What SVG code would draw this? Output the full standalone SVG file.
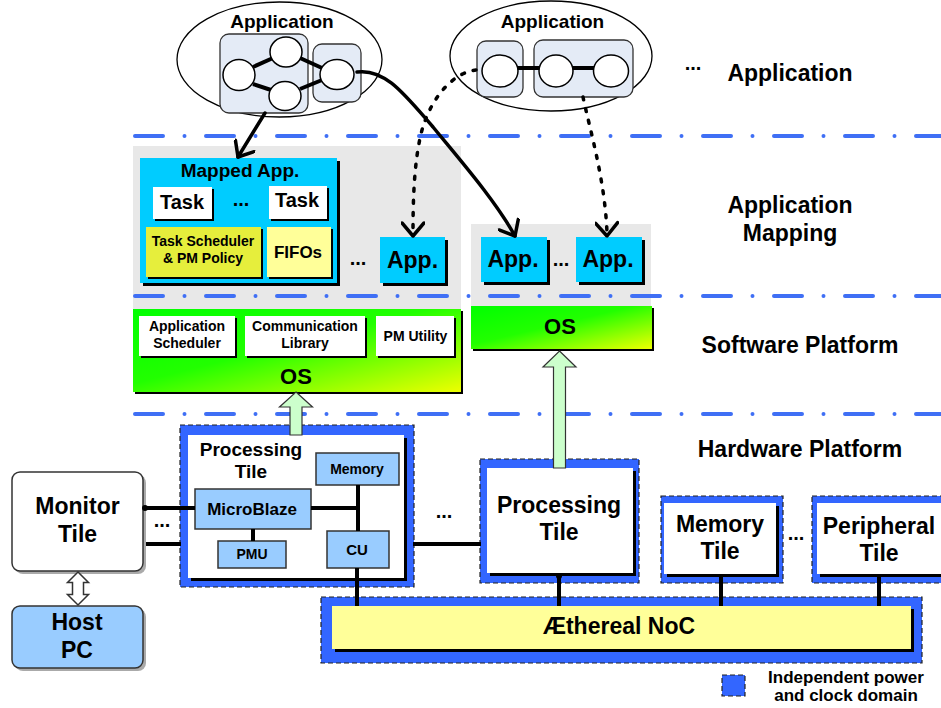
<svg xmlns="http://www.w3.org/2000/svg" width="941" height="708" viewBox="0 0 941 708">
<defs>
<style>
.t{font-family:"Liberation Sans",Arial,Helvetica,sans-serif;font-weight:bold;text-anchor:middle;fill:#000}
.dd{fill:none;stroke:#3f6ff5;stroke-width:4;stroke-linecap:round;stroke-dasharray:28 21.5 0 21.5}
.dom{fill:#3366ff;stroke:#222;stroke-width:1.2;stroke-dasharray:5 3}
.sh{fill:#000}
.lb{fill:#99ccff;stroke:#333;stroke-width:1.5}
.cy{fill:#00ccff}
.wh{fill:#fff}
.grp{fill:#e4ebf6;stroke:#333;stroke-width:1.3}
.cir{fill:#fff;stroke:#000;stroke-width:1.5}
.ln{stroke:#000;stroke-width:4;fill:none}
.arr{stroke:#000;stroke-width:3.5;fill:none;stroke-linecap:round}
.dot{stroke:#000;stroke-width:3.5;fill:none;stroke-linecap:round;stroke-dasharray:3 9}
.blk{fill:#ccffcc;stroke:#333;stroke-width:1.2}
</style>
<linearGradient id="osg" x1="0" y1="0" x2="1" y2="1">
<stop offset="0" stop-color="#00ff00"/>
<stop offset="0.45" stop-color="#22ff00"/>
<stop offset="1" stop-color="#eeff00"/>
</linearGradient>
<marker id="vh" viewBox="0 0 24 24" refX="20" refY="12" markerWidth="24" markerHeight="24" orient="auto" markerUnits="userSpaceOnUse">
<path d="M7,1 L20,12 L7,23" fill="none" stroke="#000" stroke-width="3.5" stroke-linecap="round" stroke-linejoin="round"/>
</marker>
</defs>
<rect width="941" height="708" fill="#fff"/>

<!-- gray mapping backgrounds -->
<rect x="133" y="146" width="328" height="163" fill="#e8e8e8"/>
<rect x="471" y="224" width="180" height="82" fill="#e8e8e8"/>

<!-- layer separators -->
<g id="separators">
<path class="dd" d="M135,136 H941"/>
<path class="dd" d="M135,296 H941"/>
<path class="dd" d="M135,414 H941"/>
</g>

<!-- layer labels -->
<g id="labels">
<text class="t" x="693" y="70" font-size="20">...</text>
<text class="t" x="790" y="81" font-size="23">Application</text>
<text class="t" x="790" y="213" font-size="23">Application</text>
<text class="t" x="790" y="241" font-size="23">Mapping</text>
<text class="t" x="800" y="353" font-size="23">Software Platform</text>
<text class="t" x="800" y="457" font-size="23">Hardware Platform</text>
</g>

<!-- Application 1 -->
<g id="app1">
<ellipse cx="279.5" cy="59.5" rx="102.5" ry="57.5" fill="#fff" stroke="#000" stroke-width="1.3"/>
<text class="t" x="282" y="28" font-size="19">Application</text>
<rect class="grp" x="220" y="34" width="88" height="79" rx="9"/>
<rect class="grp" x="313" y="44" width="48" height="58" rx="9"/>
<line class="ln" x1="253" y1="67" x2="273" y2="58"/>
<line class="ln" x1="253" y1="84" x2="271" y2="90"/>
<line class="ln" x1="300" y1="58" x2="322" y2="68"/>
<line class="ln" x1="300" y1="89" x2="322" y2="80"/>
<ellipse class="cir" cx="239" cy="75" rx="16" ry="15.5"/>
<ellipse class="cir" cx="286" cy="52" rx="16" ry="15"/>
<ellipse class="cir" cx="285" cy="96" rx="16" ry="14.5"/>
<ellipse class="cir" cx="337" cy="74.5" rx="17" ry="15"/>
</g>

<!-- Application 2 -->
<g id="app2">
<ellipse cx="551" cy="56" rx="101" ry="55" fill="#fff" stroke="#000" stroke-width="1.3"/>
<text class="t" x="552.5" y="28" font-size="19">Application</text>
<rect class="grp" x="477" y="41" width="46" height="56" rx="9"/>
<rect class="grp" x="534" y="40" width="99" height="57" rx="9"/>
<line class="ln" x1="517" y1="68" x2="540" y2="68"/>
<line class="ln" x1="572" y1="68" x2="594" y2="68"/>
<ellipse class="cir" cx="500" cy="71" rx="18" ry="16"/>
<ellipse class="cir" cx="556" cy="71" rx="17" ry="16"/>
<ellipse class="cir" cx="611" cy="71" rx="17.5" ry="16"/>
</g>

<!-- Mapped App -->
<g id="mapped-app">
<rect class="sh" x="143" y="161" width="197" height="125"/>
<rect class="cy" x="140" y="158" width="197" height="125"/>
<text class="t" x="240" y="177" font-size="19">Mapped App.</text>
<rect class="sh" x="155" y="189" width="59" height="32"/>
<rect class="wh" x="153" y="187" width="59" height="32"/>
<text class="t" x="182" y="209" font-size="20">Task</text>
<text class="t" x="241" y="206" font-size="20">...</text>
<rect class="sh" x="271" y="188" width="58" height="33"/>
<rect class="wh" x="269" y="186" width="58" height="33"/>
<text class="t" x="297" y="207" font-size="20">Task</text>
<rect class="sh" x="148" y="229" width="115" height="50"/>
<rect x="146" y="227" width="115" height="50" fill="#e6ee3c"/>
<text class="t" x="203" y="246" font-size="14">Task Scheduler</text>
<text class="t" x="203" y="263" font-size="14">&amp; PM Policy</text>
<rect class="sh" x="269" y="229" width="64" height="50"/>
<rect x="267" y="227" width="64" height="50" fill="#ffff99"/>
<text class="t" x="298" y="258" font-size="17">FIFOs</text>
</g>

<text class="t" x="358" y="265" font-size="20">...</text>

<g id="app-left">
<rect class="sh" x="383" y="240" width="65" height="46"/>
<rect class="cy" x="380" y="237" width="65" height="46"/>
<text class="t" x="412.5" y="268" font-size="23">App.</text>
</g>
<g id="app-right1">
<rect class="sh" x="484" y="240" width="66" height="45"/>
<rect class="cy" x="481" y="237" width="66" height="45"/>
<text class="t" x="513" y="267" font-size="23">App.</text>
</g>
<text class="t" x="561" y="266" font-size="20">...</text>
<g id="app-right2">
<rect class="sh" x="579" y="240" width="66" height="45"/>
<rect class="cy" x="576" y="237" width="66" height="45"/>
<text class="t" x="608" y="267" font-size="23">App.</text>
</g>

<!-- OS left -->
<g id="os-left">
<rect class="sh" x="135" y="311" width="328" height="83"/>
<rect x="133" y="309" width="328" height="83" fill="url(#osg)"/>
<rect class="sh" x="141" y="318" width="96" height="40"/>
<rect class="wh" x="139" y="316" width="96" height="40"/>
<text class="t" x="187" y="331" font-size="14">Application</text>
<text class="t" x="187" y="348" font-size="14">Scheduler</text>
<rect class="sh" x="247" y="318" width="120" height="40"/>
<rect class="wh" x="245" y="316" width="120" height="40"/>
<text class="t" x="305" y="331" font-size="14">Communication</text>
<text class="t" x="305" y="348" font-size="14">Library</text>
<rect class="sh" x="378" y="318" width="78" height="40"/>
<rect class="wh" x="376" y="316" width="78" height="40"/>
<text class="t" x="415.5" y="341" font-size="14">PM Utility</text>
<text class="t" x="296" y="384" font-size="22">OS</text>
</g>

<!-- OS right -->
<g id="os-right">
<rect class="sh" x="473" y="308" width="181" height="43"/>
<rect x="471" y="306" width="181" height="43" fill="url(#osg)"/>
<text class="t" x="560" y="334" font-size="22">OS</text>
</g>

<!-- Processing tile (detailed) -->
<g id="proc-tile-1">
<rect class="dom" x="180" y="425" width="234" height="162"/>
<rect class="sh" x="191" y="438" width="216" height="143"/>
<rect class="wh" x="188" y="435" width="216" height="143"/>
<text class="t" x="251" y="456" font-size="19">Processing</text>
<text class="t" x="251" y="478" font-size="19">Tile</text>
</g>
<g id="memory-small">
<rect class="lb" x="316" y="453" width="83" height="32"/>
<text class="t" x="357" y="474" font-size="14">Memory</text>
</g>
<g id="microblaze">
<rect class="lb" x="195" y="489" width="116" height="40"/>
<text class="t" x="252" y="515" font-size="17">MicroBlaze</text>
</g>
<g id="pmu">
<rect class="lb" x="218" y="541" width="68" height="27"/>
<text class="t" x="252" y="559" font-size="14">PMU</text>
</g>
<g id="cu">
<rect class="lb" x="327" y="531" width="62" height="37"/>
<text class="t" x="357" y="555" font-size="15">CU</text>
</g>

<!-- Monitor tile -->
<g id="monitor-tile">
<rect x="15" y="475" width="131" height="99" rx="8" fill="#aaa"/>
<rect x="12" y="472" width="131" height="99" rx="8" fill="#fff" stroke="#333" stroke-width="1.5"/>
<text class="t" x="77.5" y="514" font-size="23">Monitor</text>
<text class="t" x="77.5" y="542" font-size="23">Tile</text>
</g>
<text class="t" x="162" y="527" font-size="20">...</text>

<!-- Host PC -->
<g id="host-pc">
<rect x="15" y="609" width="131" height="62" rx="8" fill="#aaa"/>
<rect x="12" y="606" width="131" height="62" rx="8" fill="#99ccff" stroke="#333" stroke-width="1.5"/>
<text class="t" x="77" y="630" font-size="23">Host</text>
<text class="t" x="77" y="658" font-size="23">PC</text>
</g>

<text class="t" x="444" y="518" font-size="20">...</text>

<!-- Processing tile 2 -->
<g id="proc-tile-2">
<rect class="dom" x="480" y="459" width="159" height="124"/>
<rect class="sh" x="490" y="471" width="146" height="105"/>
<rect class="wh" x="487" y="468" width="146" height="105"/>
<text class="t" x="559" y="513" font-size="23">Processing</text>
<text class="t" x="559" y="540" font-size="23">Tile</text>
</g>

<!-- Memory tile -->
<g id="memory-tile">
<rect class="dom" x="661" y="496" width="122" height="87"/>
<rect class="sh" x="667" y="506" width="112" height="71"/>
<rect class="wh" x="664" y="503" width="112" height="71"/>
<text class="t" x="720" y="532" font-size="23">Memory</text>
<text class="t" x="720" y="559" font-size="23">Tile</text>
</g>
<text class="t" x="796" y="540" font-size="20">...</text>

<!-- Peripheral tile -->
<g id="peripheral-tile">
<rect class="dom" x="812" y="496" width="140" height="87"/>
<rect class="sh" x="820" y="506" width="135" height="71"/>
<rect class="wh" x="817" y="503" width="135" height="71"/>
<text class="t" x="879" y="534" font-size="23">Peripheral</text>
<text class="t" x="879" y="561" font-size="23">Tile</text>
</g>

<!-- NoC -->
<g id="noc">
<rect class="dom" x="321" y="597" width="601" height="66"/>
<rect class="sh" x="335" y="609" width="579" height="43"/>
<rect x="332" y="606" width="579" height="43" fill="#ffff99"/>
<text class="t" x="619" y="634" font-size="23">Æthereal NoC</text>
</g>

<!-- Legend -->
<g id="legend">
<rect class="dom" x="722" y="675" width="23" height="21"/>
<text class="t" x="846" y="683" font-size="17">Independent power</text>
<text class="t" x="846" y="701" font-size="17">and clock domain</text>
</g>

<!-- connectors -->
<g id="connectors">
<path class="arr" d="M265,113 L238,157" marker-end="url(#vh)"/>
<path class="arr" d="M357,72 C385,68 405,95 433,127 C460,160 495,200 515,236" marker-end="url(#vh)"/>
<path class="dot" d="M476,70 C455,72 432,95 422,130 C414,160 413,200 413,233"/>
<path d="M413,220 L413,236" fill="none" stroke="none" marker-end="url(#vh)"/>
<path class="dot" d="M583,97 C590,130 605,180 607,233"/>
<path d="M606.6,222 L607,236" fill="none" stroke="none" marker-end="url(#vh)"/>

<line class="ln" x1="145" y1="508" x2="195" y2="508"/>
<circle cx="145" cy="508" r="3" fill="#000"/>
<line class="ln" x1="146" y1="544" x2="181" y2="544"/>
<line class="ln" x1="311" y1="508" x2="358" y2="508"/>
<line class="ln" x1="358" y1="485" x2="358" y2="531"/>
<line class="ln" x1="253" y1="529" x2="253" y2="541"/>
<line class="ln" x1="357" y1="568" x2="357" y2="606"/>
<line class="ln" x1="413" y1="544" x2="481" y2="544"/>
<line class="ln" x1="559" y1="576" x2="559" y2="606"/>
<circle cx="559" cy="576" r="3" fill="#000"/>
<line class="ln" x1="721" y1="576" x2="721" y2="606"/>
<line class="ln" x1="879" y1="576" x2="879" y2="606"/>

<polygon class="blk" points="296,392 312.5,407 302,407 302,435 290,435 290,407 279.5,407"/>
<polygon class="blk" points="559.5,351 576,367 565.5,367 565.5,468 553.5,468 553.5,367 543,367"/>
<polygon points="78,572 88.5,582.5 83.5,582.5 83.5,594.5 88.5,594.5 78,605 67.5,594.5 72.5,594.5 72.5,582.5 67.5,582.5" fill="#fff" stroke="#333" stroke-width="1.5"/>
</g>
</svg>
